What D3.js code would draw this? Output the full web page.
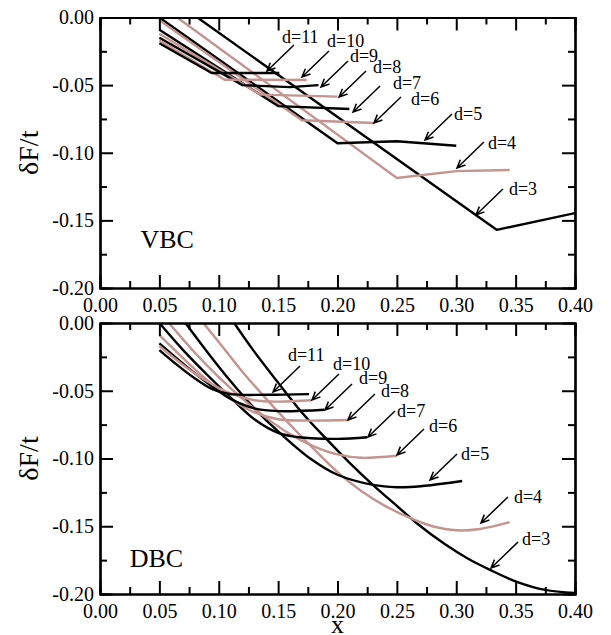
<!DOCTYPE html>
<html>
<head>
<meta charset="utf-8">
<script src="https://cdn.jsdelivr.net/npm/d3@7"></script>
<style>
body { margin: 0; background: #fff; }
text { font-family: "Liberation Serif", "Times New Roman", serif; fill: #000; }
</style>
</head>
<body>
<svg id="chart" width="611" height="635"></svg>
<script>
// ---- data ----
var xMajor = [0, 0.05, 0.10, 0.15, 0.20, 0.25, 0.30, 0.35, 0.40];
var xMinor = [0.025, 0.075, 0.125, 0.175, 0.225, 0.275, 0.325, 0.375];
var yMajor = [0, -0.05, -0.10, -0.15, -0.20];
var yMinor = [-0.025, -0.075, -0.125, -0.175];
var dList = [3, 4, 5, 6, 7, 8, 9, 10, 11];

// VBC (piecewise linear)
var vbc3  = [[0.082, 0], [0.334, -0.157], [0.40, -0.1446]];
var vbc4  = [[0.065, 0], [0.25, -0.1187], [0.30, -0.1136], [0.345, -0.1128]];
var vbc5  = [[0.05, 0], [0.20, -0.093], [0.25, -0.0915], [0.30, -0.0948]];
var vbc6  = [[0.05, -0.002], [0.17, -0.076], [0.231, -0.078]];
var vbc7  = [[0.05, -0.009], [0.15, -0.0655], [0.21, -0.0677]];
var vbc8  = [[0.05, -0.012], [0.135, -0.057], [0.20, -0.0585]];
var vbc9  = [[0.05, -0.015], [0.12, -0.050], [0.16, -0.0515], [0.184, -0.050]];
var vbc10 = [[0.05, -0.017], [0.105, -0.046], [0.174, -0.0462]];
var vbc11 = [[0.05, -0.019], [0.094, -0.041], [0.151, -0.041]];

// DBC (smooth)
var dbc3  = [[0.113, 0], [0.129, -0.020], [0.15, -0.044], [0.17, -0.066], [0.19, -0.085], [0.21, -0.103],
             [0.23, -0.1196], [0.25, -0.135], [0.267, -0.148], [0.29, -0.163], [0.31, -0.174],
             [0.328, -0.182], [0.351, -0.191], [0.375, -0.197], [0.40, -0.1993]];
var dbc4  = [[0.087, 0], [0.10, -0.014], [0.119, -0.035], [0.14, -0.056], [0.16, -0.075], [0.18, -0.093],
             [0.20, -0.110], [0.22, -0.124], [0.24, -0.135], [0.264, -0.145], [0.28, -0.150],
             [0.30, -0.153], [0.32, -0.152], [0.345, -0.147]];
var dbc5  = [[0.072, 0], [0.09, -0.021], [0.11, -0.043], [0.13, -0.063], [0.15, -0.080], [0.177, -0.100],
             [0.20, -0.112], [0.23, -0.1195], [0.25, -0.1212], [0.27, -0.1205], [0.305, -0.1166]];
var dbc6  = [[0.058, 0], [0.08, -0.022], [0.10, -0.040], [0.12, -0.056], [0.14, -0.070], [0.16, -0.082],
             [0.18, -0.091], [0.20, -0.097], [0.22, -0.0995], [0.25, -0.098]];
var dbc7  = [[0.05, 0], [0.07, -0.020], [0.09, -0.038], [0.11, -0.055], [0.13, -0.071], [0.15, -0.081],
             [0.17, -0.0845], [0.20, -0.0855], [0.225, -0.0843]];
var dbc8  = [[0.05, -0.009], [0.07, -0.026], [0.09, -0.042], [0.11, -0.056], [0.13, -0.066],
             [0.15, -0.071], [0.17, -0.072], [0.21, -0.0716]];
var dbc9  = [[0.05, -0.015], [0.07, -0.030], [0.09, -0.044], [0.11, -0.056], [0.13, -0.063],
             [0.15, -0.065], [0.189, -0.064]];
var dbc10 = [[0.05, -0.017], [0.07, -0.031], [0.09, -0.043], [0.11, -0.052], [0.13, -0.057],
             [0.15, -0.058], [0.178, -0.057]];
var dbc11 = [[0.05, -0.020], [0.065, -0.031], [0.08, -0.041], [0.095, -0.049], [0.11, -0.0525],
             [0.14, -0.053], [0.176, -0.0525]];

// annotation tips (on the curves) and label anchors, in data units, order d=3..11
var vbcTips   = [[0.3166, -0.1460], [0.3006, -0.1113], [0.2737, -0.0906], [0.2307, -0.0780], [0.2131, -0.0699],
                 [0.2013, -0.0588], [0.1861, -0.0514], [0.1701, -0.0440], [0.1406, -0.0396]];
var vbcLabels = [[0.3444, -0.1312], [0.3267, -0.0972], [0.2981, -0.0758], [0.2619, -0.0647], [0.2467, -0.0529],
                 [0.2299, -0.0410], [0.2105, -0.0329], [0.1912, -0.0218], [0.1533, -0.0189]];
var dbcTips   = [[0.3293, -0.1808], [0.3208, -0.1476], [0.2779, -0.1159], [0.2501, -0.0974], [0.2257, -0.0841],
                 [0.2088, -0.0716], [0.1895, -0.0642], [0.1785, -0.0568], [0.1457, -0.0509]];
var dbcLabels = [[0.3554, -0.1638], [0.3486, -0.1328], [0.3040, -0.1011], [0.2771, -0.0804], [0.2501, -0.0694],
                 [0.2366, -0.0546], [0.2181, -0.0450], [0.1962, -0.0347], [0.1583, -0.0280]];

// ---- layout ----
var svg = d3.select("#chart");
var left = 100, right = 575;
var black = "#000", pink = "#c39490";

var xScale = d3.scaleLinear().domain([0, 0.40]).range([left, right]);

var panels = [
    { tag: "VBC", tagPos: [0.034, -0.1704], top: 17.5, bottom: 288, smooth: false,
      curves: [vbc3, vbc4, vbc5, vbc6, vbc7, vbc8, vbc9, vbc10, vbc11], tips: vbcTips, labels: vbcLabels },
    { tag: "DBC", tagPos: [0.025, -0.180], top: 323, bottom: 594, smooth: true,
      curves: [dbc3, dbc4, dbc5, dbc6, dbc7, dbc8, dbc9, dbc10, dbc11], tips: dbcTips, labels: dbcLabels }
];

panels.forEach(function(p, pi) {
    var yScale = d3.scaleLinear().domain([-0.20, 0]).range([p.bottom, p.top]);
    var g = svg.append("g");

    // clip to plotting area
    var clipId = "clip" + pi;
    svg.append("clipPath").attr("id", clipId)
        .append("rect")
        .attr("x", left).attr("y", p.top)
        .attr("width", right - left).attr("height", p.bottom - p.top);

    // curves
    var line = d3.line()
        .x(function(d) { return xScale(d[0]); })
        .y(function(d) { return yScale(d[1]); })
        .curve(p.smooth ? d3.curveCatmullRom.alpha(0.5) : d3.curveLinear);

    var cg = g.append("g").attr("clip-path", "url(#" + clipId + ")");
    p.curves.forEach(function(c, i) {
        cg.append("path")
            .datum(c)
            .attr("fill", "none")
            .attr("stroke", dList[i] % 2 ? black : pink)
            .attr("stroke-width", 2.4)
            .attr("stroke-linejoin", "round")
            .attr("d", line);
    });

    // axes, ticks pointing inward on all four sides
    function styleAxis(sel) {
        sel.selectAll("path.domain").attr("stroke", "#000").attr("stroke-width", 2.2);
        sel.selectAll(".tick line").attr("stroke", "#000").attr("stroke-width", 2);
        sel.selectAll(".tick text")
            .style("font-family", "'Liberation Serif', 'Times New Roman', serif")
            .style("font-size", "20px").attr("fill", "#000");
    }
    var fmt = function(d) { return d.toFixed(2); };

    g.append("g").attr("transform", "translate(0," + p.bottom + ")")
        .call(d3.axisBottom(xScale).tickValues(xMinor).tickSize(-7).tickFormat("")).call(styleAxis);
    g.append("g").attr("transform", "translate(0," + p.bottom + ")")
        .call(d3.axisBottom(xScale).tickValues(xMajor).tickSize(-13).tickSizeOuter(0).tickPadding(10).tickFormat(fmt))
        .call(styleAxis);
    g.append("g").attr("transform", "translate(0," + p.top + ")")
        .call(d3.axisTop(xScale).tickValues(xMinor).tickSize(-7).tickFormat("")).call(styleAxis);
    g.append("g").attr("transform", "translate(0," + p.top + ")")
        .call(d3.axisTop(xScale).tickValues(xMajor).tickSize(-13).tickSizeOuter(0).tickFormat(""))
        .call(styleAxis);

    g.append("g").attr("transform", "translate(" + left + ",0)")
        .call(d3.axisLeft(yScale).tickValues(yMinor).tickSize(-7).tickFormat("")).call(styleAxis);
    g.append("g").attr("transform", "translate(" + left + ",0)")
        .call(d3.axisLeft(yScale).tickValues(yMajor).tickSize(-13).tickSizeOuter(0).tickPadding(6).tickFormat(fmt))
        .call(styleAxis);
    g.append("g").attr("transform", "translate(" + right + ",0)")
        .call(d3.axisRight(yScale).tickValues(yMinor).tickSize(-7).tickFormat("")).call(styleAxis);
    g.append("g").attr("transform", "translate(" + right + ",0)")
        .call(d3.axisRight(yScale).tickValues(yMajor).tickSize(-13).tickSizeOuter(0).tickFormat(""))
        .call(styleAxis);

    // y title
    g.append("text")
        .attr("transform", "translate(38," + ((p.top + p.bottom) / 2) + ") rotate(-90)")
        .style("text-anchor", "middle")
        .style("font-size", "28px")
        .text("\u03b4F/t");

    // panel tag
    g.append("text")
        .attr("x", xScale(p.tagPos[0]))
        .attr("y", yScale(p.tagPos[1]))
        .style("font-size", "26px")
        .text(p.tag);

    // d= labels with arrows
    p.tips.forEach(function(t, i) {
        var x2 = xScale(t[0]), y2 = yScale(t[1]);
        var x1 = x2 + 27, y1 = y2 - 26;
        var a = Math.atan2(y2 - y1, x2 - x1), L = 9, s = 0.42;
        g.append("path")
            .attr("fill", "none")
            .attr("stroke", "#000")
            .attr("stroke-width", 1.5)
            .attr("d", "M" + x1 + "," + y1 + "L" + x2 + "," + y2 +
                "M" + (x2 - L * Math.cos(a - s)) + "," + (y2 - L * Math.sin(a - s)) +
                "L" + x2 + "," + y2 +
                "L" + (x2 - L * Math.cos(a + s)) + "," + (y2 - L * Math.sin(a + s)));
        var lab = p.labels[i];
        g.append("text")
            .attr("x", xScale(lab[0]))
            .attr("y", yScale(lab[1]))
            .style("font-size", "18px")
            .text("d=" + dList[i]);
    });
});

// x title
svg.append("text")
    .attr("x", xScale(0.20))
    .attr("y", 633)
    .style("text-anchor", "middle")
    .style("font-size", "26px")
    .text("x");
</script>
</body>
</html>
